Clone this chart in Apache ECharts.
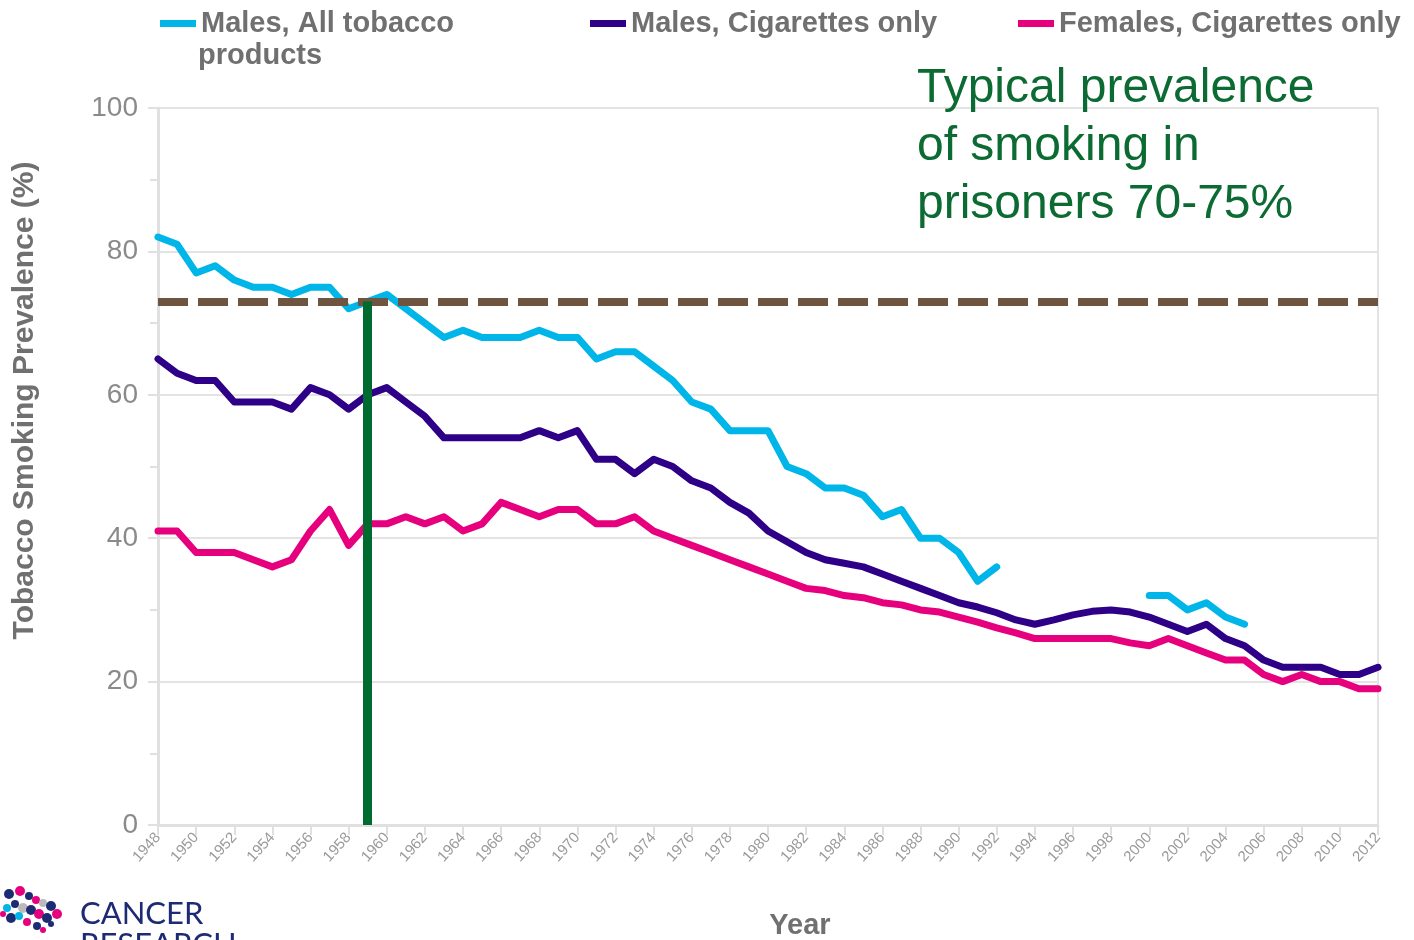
<!DOCTYPE html>
<html>
<head>
<meta charset="utf-8">
<script src="https://cdn.jsdelivr.net/npm/echarts@6/dist/echarts.min.js"></script>
<style>
    html, body { margin: 0; padding: 0; background: #fff; }
    #chart { width: 1414px; height: 940px; }
</style>
</head>
<body>
<div id="chart"></div>
<script>
// years 1948 - 2012
var years = [];
for (var y = 1948; y <= 2012; y++) {
    years.push(String(y));
}

var malesAll = [82, 81, 77, 78, 76, 75, 75, 74, 75, 75, 72, 73, 74, 72, 70, 68, 69, 68, 68, 68,
    69, 68, 68, 65, 66, 66, 64, 62, 59, 58, 55, 55, 55, 50, 49, 47, 47, 46, 43, 44,
    40, 40, 38, 34, 36,
    null, null, null, null, null, null, null,
    32, 32, 30, 31, 29, 28,
    null, null, null, null, null, null, null];

var malesCig = [65, 63, 62, 62, 59, 59, 59, 58, 61, 60, 58, 60, 61, 59, 57, 54, 54, 54, 54, 54,
    55, 54, 55, 51, 51, 49, 51, 50, 48, 47, 45, 43.5, 41, 39.5, 38, 37, 36.5, 36, 35, 34,
    33, 32, 31, 30.4, 29.6, 28.6, 28, 28.6, 29.3, 29.8, 30, 29.7, 29, 28, 27, 28, 26, 25,
    23, 22, 22, 22, 21, 21, 22];

var femalesCig = [41, 41, 38, 38, 38, 37, 36, 37, 41, 44, 39, 42, 42, 43, 42, 43, 41, 42, 45, 44,
    43, 44, 44, 42, 42, 43, 41, 40, 39, 38, 37, 36, 35, 34, 33, 32.7, 32, 31.7, 31, 30.7,
    30, 29.7, 29, 28.3, 27.5, 26.8, 26, 26, 26, 26, 26, 25.4, 25, 26, 25, 24, 23, 23,
    21, 20, 21, 20, 20, 19, 19];

var yTicks = [0, 20, 40, 60, 80, 100];
var prisonLevel = 73;   // typical prevalence in prisoners
var markYear = '1959';

var FONT = 'Liberation Sans, Arial, sans-serif';
var legendStyle = {
    fontFamily: FONT,
    fontWeight: 'bold',
    fontSize: 29,
    color: '#707070'
};

function makeLegend(name, left) {
    return {
        data: [name],
        left: left,
        top: 4,
        icon: 'rect',
        itemWidth: 36,
        itemHeight: 7,
        itemGap: 0,
        selectedMode: false,
        formatter: function (n) {
            return n.split('\n')[0];
        },
        textStyle: legendStyle
    };
}

var chart = echarts.init(document.getElementById('chart'));

var option = {
    animation: false,
    backgroundColor: '#fff',
    grid: {
        left: 158,
        right: 36,
        top: 108,
        bottom: 115,
        outerBoundsMode: 'none',
        containLabel: false,
        show: true,
        borderColor: '#e3e3e3',
        borderWidth: 2
    },
    legend: [
        makeLegend('Males, All tobacco\nproducts', 155),
        makeLegend('Males, Cigarettes only', 585),
        makeLegend('Females, Cigarettes only', 1013)
    ],
    xAxis: {
        type: 'category',
        data: years,
        boundaryGap: false,
        name: 'Year',
        nameLocation: 'middle',
        nameGap: 86,
        nameTextStyle: {
            fontFamily: FONT,
            fontWeight: 'bold',
            fontSize: 29,
            color: '#707070',
            padding: [0, 0, 0, 64]
        },
        axisLine: {lineStyle: {color: '#e0e0e0', width: 3}},
        axisTick: {interval: 1, length: 10, lineStyle: {color: '#e0e0e0', width: 2}},
        axisLabel: {
            interval: 1,
            rotate: 48,
            fontSize: 15,
            color: '#9a9a9a',
            fontFamily: FONT,
            margin: 10
        },
        splitLine: {show: false}
    },
    yAxis: {
        type: 'value',
        min: 0,
        max: 100,
        interval: 20,
        name: 'Tobacco Smoking Prevalence (%)',
        nameLocation: 'middle',
        nameGap: 118,
        nameTextStyle: {
            fontFamily: FONT,
            fontWeight: 'bold',
            fontSize: 30,
            color: '#707070',
            padding: [0, 0, 0, 132]
        },
        axisLine: {show: true, lineStyle: {color: '#e0e0e0', width: 3}},
        axisTick: {show: true, length: 10, lineStyle: {color: '#e0e0e0', width: 2}},
        minorTick: {show: true, splitNumber: 2, length: 8, lineStyle: {color: '#e0e0e0', width: 2}},
        axisLabel: {
            fontSize: 28,
            color: '#8a8a8a',
            fontFamily: FONT,
            margin: 20,
            formatter: function (v) {
                return yTicks.indexOf(v) >= 0 ? String(v) : '';
            }
        },
        splitLine: {lineStyle: {color: '#e3e3e3', width: 2}}
    },
    series: [{
        name: 'Males, All tobacco\nproducts',
        type: 'line',
        data: malesAll,
        showSymbol: false,
        connectNulls: false,
        color: '#00b5e8',
        lineStyle: {width: 7, join: 'round', cap: 'round'}
    }, {
        name: 'Males, Cigarettes only',
        type: 'line',
        data: malesCig,
        showSymbol: false,
        color: '#2e0087',
        lineStyle: {width: 7, join: 'round', cap: 'round'}
    }, {
        name: 'Females, Cigarettes only',
        type: 'line',
        data: femalesCig,
        showSymbol: false,
        color: '#e6007e',
        lineStyle: {width: 7, join: 'round', cap: 'round'},
        markLine: {
            silent: true,
            symbol: 'none',
            label: {show: false},
            data: [
                {
                    yAxis: prisonLevel,
                    lineStyle: {color: '#6f5440', width: 8, type: [30, 10]}
                },
                [
                    {coord: [markYear, prisonLevel], lineStyle: {color: '#006b2f', width: 9, type: 'solid'}},
                    {coord: [markYear, 0]}
                ]
            ]
        }
    }],
    graphic: [{
        // second line of the first legend entry
        type: 'text',
        left: 198,
        top: 41,
        style: {
            text: 'products',
            fontFamily: FONT,
            fontWeight: 'bold',
            fontSize: 29,
            fill: '#707070'
        }
    }, {
        type: 'text',
        left: 917,
        top: 60,
        z: 100,
        style: {
            text: 'Typical prevalence\nof smoking in\nprisoners 70-75%',
            fontFamily: FONT,
            fontSize: 48,
            lineHeight: 58,
            fill: '#0b6b32'
        }
    }, {
        type: 'text',
        left: 80,
        top: 898,
        style: {
            text: 'CANCER\nRESEARCH',
            fontFamily: 'Lato, Noto Sans, sans-serif',
            fontSize: 31,
            lineHeight: 31,
            fill: '#1d2a74'
        }
    }, {
        type: 'group',
        left: 0,
        top: 886,
        children: [
            {type: 'circle', shape: {cx: 8, cy: 8, r: 5}, style: {fill: '#1d2a74'}},
            {type: 'circle', shape: {cx: 19, cy: 5, r: 5}, style: {fill: '#e6007e'}},
            {type: 'circle', shape: {cx: 28, cy: 10, r: 4}, style: {fill: '#1d2a74'}},
            {type: 'circle', shape: {cx: 35, cy: 14, r: 4}, style: {fill: '#e6007e'}},
            {type: 'circle', shape: {cx: 42, cy: 17, r: 4}, style: {fill: '#bbbbbb'}},
            {type: 'circle', shape: {cx: 50, cy: 20, r: 5}, style: {fill: '#1d2a74'}},
            {type: 'circle', shape: {cx: 56, cy: 28, r: 5}, style: {fill: '#e6007e'}},
            {type: 'circle', shape: {cx: 6, cy: 22, r: 4}, style: {fill: '#00b5e8'}},
            {type: 'circle', shape: {cx: 14, cy: 18, r: 4}, style: {fill: '#1d2a74'}},
            {type: 'circle', shape: {cx: 22, cy: 22, r: 5}, style: {fill: '#bbbbbb'}},
            {type: 'circle', shape: {cx: 30, cy: 24, r: 5}, style: {fill: '#1d2a74'}},
            {type: 'circle', shape: {cx: 38, cy: 28, r: 5}, style: {fill: '#e6007e'}},
            {type: 'circle', shape: {cx: 46, cy: 32, r: 5}, style: {fill: '#1d2a74'}},
            {type: 'circle', shape: {cx: 10, cy: 32, r: 5}, style: {fill: '#1d2a74'}},
            {type: 'circle', shape: {cx: 18, cy: 30, r: 4}, style: {fill: '#00b5e8'}},
            {type: 'circle', shape: {cx: 26, cy: 36, r: 4}, style: {fill: '#e6007e'}},
            {type: 'circle', shape: {cx: 36, cy: 40, r: 4}, style: {fill: '#1d2a74'}},
            {type: 'circle', shape: {cx: 42, cy: 44, r: 3}, style: {fill: '#e6007e'}},
            {type: 'circle', shape: {cx: 2, cy: 28, r: 3}, style: {fill: '#e6007e'}},
            {type: 'circle', shape: {cx: 50, cy: 38, r: 3}, style: {fill: '#1d2a74'}}
        ]
    }]
};

chart.setOption(option);
</script>
</body>
</html>
